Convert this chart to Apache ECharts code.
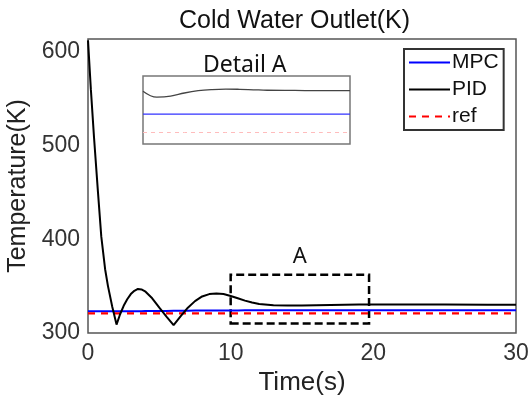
<!DOCTYPE html>
<html>
<head>
<meta charset="utf-8">
<script src="https://cdn.jsdelivr.net/npm/echarts@6/dist/echarts.min.js"></script>
<style>
  html, body { margin: 0; padding: 0; background: #fff; }
  #main { width: 528px; height: 401px; }
</style>
</head>
<body>
<div id="main"></div>
<script>
// 主图数据 时间(s)
const time = [0, 0.2, 0.42, 0.7, 0.93, 1.2, 1.4, 1.7, 2.0, 2.25, 2.5, 2.75, 3.0, 3.25, 3.5, 3.75, 4.0, 4.5, 5.0, 5.5, 6.0,
  6.5, 7.0, 7.5, 8.0, 8.5, 9.0, 9.5, 10, 10.5, 11, 11.5, 12, 13, 14, 15, 16, 17, 18, 19, 20, 22, 25, 28, 30];
const pid = [612, 560, 509, 450, 403, 368, 350, 328, 309, 320, 329, 336, 341.5, 345, 347, 346.5, 344.5, 337, 327, 317.5, 308.5,
  318, 327, 334, 339, 341.5, 342, 341.5, 339.5, 337, 334.5, 332.5, 331, 329.5, 329.2, 329.3, 329.6, 329.9,
  330.1, 330.3, 330.4, 330.4, 330.3, 330.2, 330.2];
const mpc = [323.3, 323.3, 323.3, 323.3, 323.3, 323.3, 323.3, 323.3, 323.3, 323.3, 323.3, 323.3, 323.3, 323.3, 323.3, 323.3, 323.4,
  323.4, 323.5, 323.5, 323.6, 323.7, 323.8, 323.9, 324, 324, 324.1, 324.1, 324.1, 324.1, 324.2, 324.2, 324.2,
  324.2, 324.2, 324.3, 324.3, 324.3, 324.3, 324.3, 324.3, 324.3, 324.3, 324.3, 324.3];
const refTime = [0, 30];
const refValue = [321, 321];
// 局部放大框 A
const boxA = [[10, 310], [19.7, 362]];
// 局部放大图 Detail A
const detailTime = [15, 16, 17, 18, 19, 20, 21, 22, 23, 24, 26, 28, 30];
const detailPid = [329.0, 327.7, 327.9, 328.6, 329.1, 329.35, 329.45, 329.4, 329.3, 329.2, 329.15, 329.1, 329.1];
const detailMpc = [324, 324, 324, 324, 324, 324, 324, 324, 324, 324, 324, 324, 324];
const detailRef = [320, 320, 320, 320, 320, 320, 320, 320, 320, 320, 320, 320, 320];
const xTicks = [0, 10, 20, 30];
const yTicks = [300, 400, 500, 600];

const pair = (xs, ys) => xs.map((x, i) => [x, ys[i]]);
const font = "'Liberation Sans', Arial, sans-serif";

const chart = echarts.init(document.getElementById('main'));
chart.setOption({
  animation: false,
  title: [
    {
      text: 'Cold Water Outlet(K)',
      left: 174, top: 4,
      textStyle: { fontFamily: font, fontSize: 25, fontWeight: 'normal', color: '#111' }
    },
    {
      text: 'Detail A',
      left: 198, top: 49,
      textStyle: { fontFamily: "'Noto Sans', sans-serif", fontSize: 23, fontWeight: 'normal', color: '#111' }
    }
  ],
  legend: {
    orient: 'vertical',
    left: 404, top: 49,
    padding: [3, 5, 3, 4],
    itemGap: 6,
    itemWidth: 41,
    itemHeight: 14,
    borderColor: '#333',
    borderWidth: 2,
    backgroundColor: '#fff',
    itemStyle: { opacity: 0 },
    textStyle: { fontFamily: font, fontSize: 21, color: '#111', lineHeight: 21, padding: [0, 0, 0, -3] },
    data: ['MPC', 'PID', 'ref']
  },
  grid: [
    { left: 88, top: 39, right: 12, bottom: 68, show: true, borderColor: '#555', borderWidth: 1.5,
      outerBoundsMode: 'none', containLabel: false },
    { left: 143, top: 76, width: 207, height: 68, show: true, borderColor: '#777', borderWidth: 1.5,
      backgroundColor: '#fff', z: 5, outerBoundsMode: 'none', containLabel: false }
  ],
  xAxis: [
    {
      type: 'value', gridIndex: 0, min: 0, max: 30, interval: 10,
      name: 'Time(s)', nameLocation: 'middle', nameGap: 37,
      nameTextStyle: { fontFamily: font, fontSize: 26, color: '#222' },
      axisLine: { show: false }, axisTick: { show: false }, splitLine: { show: false },
      axisLabel: {
        fontFamily: font, fontSize: 23, color: '#333', margin: 9,
        formatter: v => xTicks.includes(v) ? String(v) : ''
      }
    },
    { type: 'value', gridIndex: 1, min: 15, max: 30, show: false }
  ],
  yAxis: [
    {
      type: 'value', gridIndex: 0, min: 300, max: 613.5, interval: 100,
      name: 'Temperature(K)', nameLocation: 'middle', nameGap: 54,
      nameTextStyle: { fontFamily: font, fontSize: 25, color: '#222' },
      axisLine: { show: false }, axisTick: { show: false }, splitLine: { show: false },
      axisLabel: {
        fontFamily: font, fontSize: 23, color: '#333', margin: 8, showMaxLabel: false,
        formatter: v => yTicks.includes(v) ? String(v) : ''
      }
    },
    { type: 'value', gridIndex: 1, min: 317.5, max: 332.3, show: false }
  ],
  series: [
    {
      name: 'MPC', type: 'line', xAxisIndex: 0, yAxisIndex: 0, symbol: 'none',
      color: '#0000ff', lineStyle: { color: '#0000ff', width: 2 },
      data: pair(time, mpc), z: 3
    },
    {
      name: 'PID', type: 'line', xAxisIndex: 0, yAxisIndex: 0, symbol: 'none',
      color: '#000', lineStyle: { color: '#000', width: 2 },
      data: pair(time, pid), z: 4
    },
    {
      name: 'ref', type: 'line', xAxisIndex: 0, yAxisIndex: 0, symbol: 'none',
      color: '#ff0000', lineStyle: { color: '#ff0000', width: 2.2, type: [7, 6] },
      data: pair(refTime, refValue), z: 3,
      markArea: {
        silent: true,
        itemStyle: { color: 'rgba(0,0,0,0)', borderColor: '#000', borderWidth: 2.5, borderType: [8, 4] },
        label: { show: true, position: 'top', distance: 6, formatter: 'A',
          fontFamily: "'Noto Sans', sans-serif", fontSize: 22, color: '#111' },
        data: [[{ coord: boxA[0] }, { coord: boxA[1] }]]
      }
    },
    {
      name: 'PID detail', type: 'line', xAxisIndex: 1, yAxisIndex: 1, symbol: 'none', smooth: 0.4,
      lineStyle: { color: '#444', width: 1.3 }, data: pair(detailTime, detailPid), z: 6
    },
    {
      name: 'MPC detail', type: 'line', xAxisIndex: 1, yAxisIndex: 1, symbol: 'none',
      lineStyle: { color: '#3333ff', width: 1.3 }, data: pair(detailTime, detailMpc), z: 6
    },
    {
      name: 'ref detail', type: 'line', xAxisIndex: 1, yAxisIndex: 1, symbol: 'none',
      lineStyle: { color: '#ffbcbc', width: 1, type: [4, 4] }, data: pair(detailTime, detailRef), z: 6
    }
  ]
});
</script>
</body>
</html>
